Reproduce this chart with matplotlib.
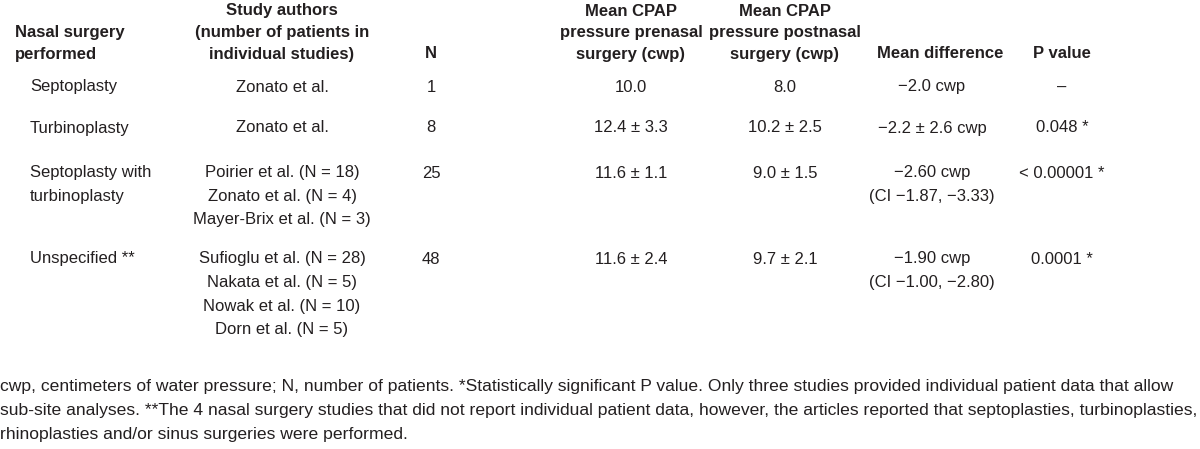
import matplotlib
matplotlib.use("Agg")
import matplotlib.pyplot as plt

# ---- data ----
surgeries = [["Septoplasty"], ["Turbinoplasty"], ["Septoplasty with", "turbinoplasty"], ["Unspecified **"]]
authors = [
    ["Zonato et al."],
    ["Zonato et al."],
    ["Poirier et al. (N = 18)", "Zonato et al. (N = 4)", "Mayer-Brix et al. (N = 3)"],
    ["Sufioglu et al. (N = 28)", "Nakata et al. (N = 5)", "Nowak et al. (N = 10)", "Dorn et al. (N = 5)"],
]
n_patients = ["1", "8", "25", "48"]
pre_cpap = ["10.0", "12.4 \u00b1 3.3", "11.6 \u00b1 1.1", "11.6 \u00b1 2.4"]
post_cpap = ["8.0", "10.2 \u00b1 2.5", "9.0 \u00b1 1.5", "9.7 \u00b1 2.1"]
mean_diff = [["\u22122.0 cwp"], ["\u22122.2 \u00b1 2.6 cwp"], ["\u22122.60 cwp", "(CI \u22121.87, \u22123.33)"],
             ["\u22121.90 cwp", "(CI \u22121.00, \u22122.80)"]]
p_values = ["\u2013", "0.048 *", "< 0.00001 *", "0.0001 *"]

headers = [
    ["Nasal surgery", "performed"],
    ["Study authors", "(number of patients in", "individual studies)"],
    ["N"],
    ["Mean CPAP", "pressure prenasal", "surgery (cwp)"],
    ["Mean CPAP", "pressure postnasal", "surgery (cwp)"],
    ["Mean difference"],
    ["P value"],
]
footnote = [
    "cwp, centimeters of water pressure; N, number of patients. *Statistically significant P value. Only three studies provided individual patient data that allow",
    "sub-site analyses. **The 4 nasal surgery studies that did not report individual patient data, however, the articles reported that septoplasties, turbinoplasties,",
    "rhinoplasties and/or sinus surgeries were performed.",
]

# ---- layout ----
W, H = 1200, 449
fig = plt.figure(figsize=(W / 100, H / 100), dpi=100)
FAM = ["Liberation Sans", "DejaVu Sans"]
FS = 12.0
COL = "#231f20"

def put(x, y, s, ha="center", bold=False, size=FS):
    return fig.text(x / W, 1 - y / H, s, ha=ha, va="center", fontsize=size,
                    fontweight="bold" if bold else "normal",
                    family=FAM, color=COL)

head_x = [15, 282, 431, 631, 785, 940, 1062]
head_ha = ["left"] + ["center"] * 6
HSTEP = 21.5
head_bottom = 54
for hx, ha, lines in zip(head_x, head_ha, headers):
    for i, ln in enumerate(lines):
        y = head_bottom - (len(lines) - 1 - i) * HSTEP
        put(hx, y, ln, ha=ha, bold=True)

row_y = [87, 128, 173, 259]
STEP = 23.5
for r in range(4):
    y0 = row_y[r]
    for i, ln in enumerate(surgeries[r]):
        put(30, y0 + i * STEP, ln, ha="left")
    for i, ln in enumerate(authors[r]):
        put(282, y0 + i * STEP, ln)
    put(431, y0, n_patients[r])
    put(631, y0, pre_cpap[r])
    put(785, y0, post_cpap[r])
    for i, ln in enumerate(mean_diff[r]):
        put(932, y0 + i * STEP, ln)
    put(1062, y0, p_values[r])

# footnote: fit the widest line to the reference width
fn_texts = [put(0, 386 + i * 24, ln, ha="left", size=13.0) for i, ln in enumerate(footnote)]
renderer = fig.canvas.get_renderer()
wmax = max(t.get_window_extent(renderer).width for t in fn_texts)
new_size = 13.0 * 1196.0 / wmax
for t in fn_texts:
    t.set_fontsize(new_size)

fig.savefig("out.png", dpi=100)
